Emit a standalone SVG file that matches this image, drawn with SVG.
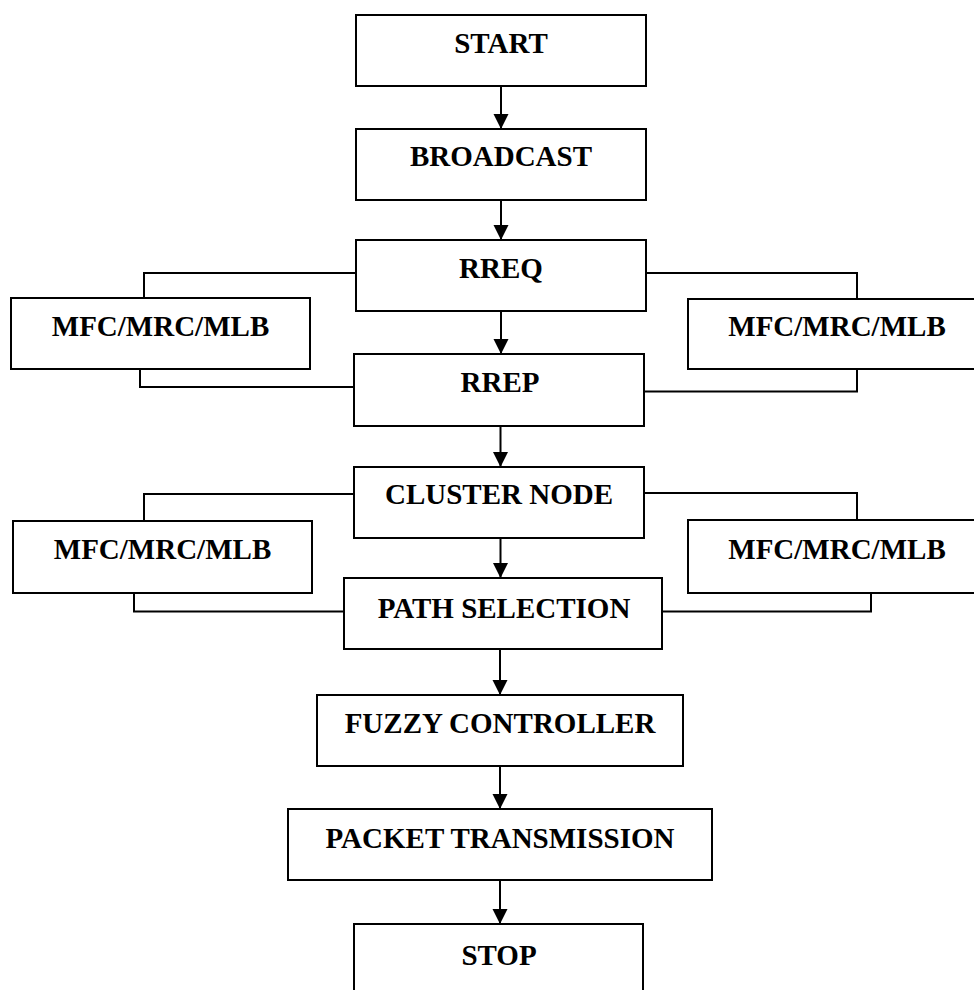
<svg xmlns="http://www.w3.org/2000/svg" width="974" height="990" viewBox="0 0 974 990">
<style>
.box{fill:#fff;stroke:#000;stroke-width:2}
.lbl{font-family:"Liberation Serif","Times New Roman",serif;font-weight:bold;font-size:29px;fill:#000;text-anchor:middle}
.con{fill:none;stroke:#000;stroke-width:2}
</style>
<defs>
<marker id="ah" markerUnits="userSpaceOnUse" markerWidth="16" markerHeight="16" viewBox="0 0 16 16" refX="15" refY="8" orient="auto">
<path d="M0,0.5 L15,8 L0,15.5 Z" fill="#000"/>
</marker>
</defs>
<rect width="974" height="990" fill="#fff"/>
<g id="connectors">
<line class="con" x1="501" y1="86" x2="501" y2="129" marker-end="url(#ah)"/>
<line class="con" x1="501" y1="200" x2="501" y2="240" marker-end="url(#ah)"/>
<line class="con" x1="501" y1="311" x2="501" y2="354" marker-end="url(#ah)"/>
<line class="con" x1="500.5" y1="426" x2="500.5" y2="467" marker-end="url(#ah)"/>
<line class="con" x1="500.5" y1="538" x2="500.5" y2="578" marker-end="url(#ah)"/>
<line class="con" x1="500" y1="649" x2="500" y2="695" marker-end="url(#ah)"/>
<line class="con" x1="500" y1="766" x2="500" y2="809" marker-end="url(#ah)"/>
<line class="con" x1="500" y1="880" x2="500" y2="924" marker-end="url(#ah)"/>
<polyline class="con" points="356,273 144,273 144,298"/>
<polyline class="con" points="140,369 140,387 354,387"/>
<polyline class="con" points="646,273 857,273 857,299"/>
<polyline class="con" points="857,369 857,391.5 644,391.5"/>
<polyline class="con" points="354,494 144,494 144,521"/>
<polyline class="con" points="134,593 134,611.5 344,611.5"/>
<polyline class="con" points="644,493 857,493 857,520"/>
<polyline class="con" points="871,593 871,611.5 662,611.5"/>
</g>
<g id="start"><rect class="box" x="356" y="15" width="290" height="71"/><text class="lbl" x="501" y="53">START</text></g>
<g id="broadcast"><rect class="box" x="356" y="129" width="290" height="71"/><text class="lbl" x="501" y="166">BROADCAST</text></g>
<g id="rreq"><rect class="box" x="356" y="240" width="290" height="71"/><text class="lbl" x="501" y="278">RREQ</text></g>
<g id="rrep"><rect class="box" x="354" y="354" width="290" height="72"/><text class="lbl" x="500" y="392">RREP</text></g>
<g id="cluster"><rect class="box" x="354" y="467" width="290" height="71"/><text class="lbl" x="499" y="504">CLUSTER NODE</text></g>
<g id="path"><rect class="box" x="344" y="578" width="318" height="71"/><text class="lbl" x="504" y="618">PATH SELECTION</text></g>
<g id="fuzzy"><rect class="box" x="317" y="695" width="366" height="71"/><text class="lbl" x="500" y="733">FUZZY CONTROLLER</text></g>
<g id="packet"><rect class="box" x="288" y="809" width="424" height="71"/><text class="lbl" x="500" y="847.5">PACKET TRANSMISSION</text></g>
<g id="stop"><rect class="box" x="354" y="924" width="289" height="80"/><text class="lbl" x="499" y="965">STOP</text></g>
<g id="mfc-l1"><rect class="box" x="11" y="298" width="299" height="71"/><text class="lbl" x="160.5" y="336">MFC/MRC/MLB</text></g>
<g id="mfc-r1"><rect class="box" x="688" y="299" width="298" height="70"/><text class="lbl" x="837" y="336">MFC/MRC/MLB</text></g>
<g id="mfc-l2"><rect class="box" x="13" y="521" width="299" height="72"/><text class="lbl" x="162.5" y="559">MFC/MRC/MLB</text></g>
<g id="mfc-r2"><rect class="box" x="688" y="520" width="298" height="73"/><text class="lbl" x="837" y="559">MFC/MRC/MLB</text></g>
</svg>
